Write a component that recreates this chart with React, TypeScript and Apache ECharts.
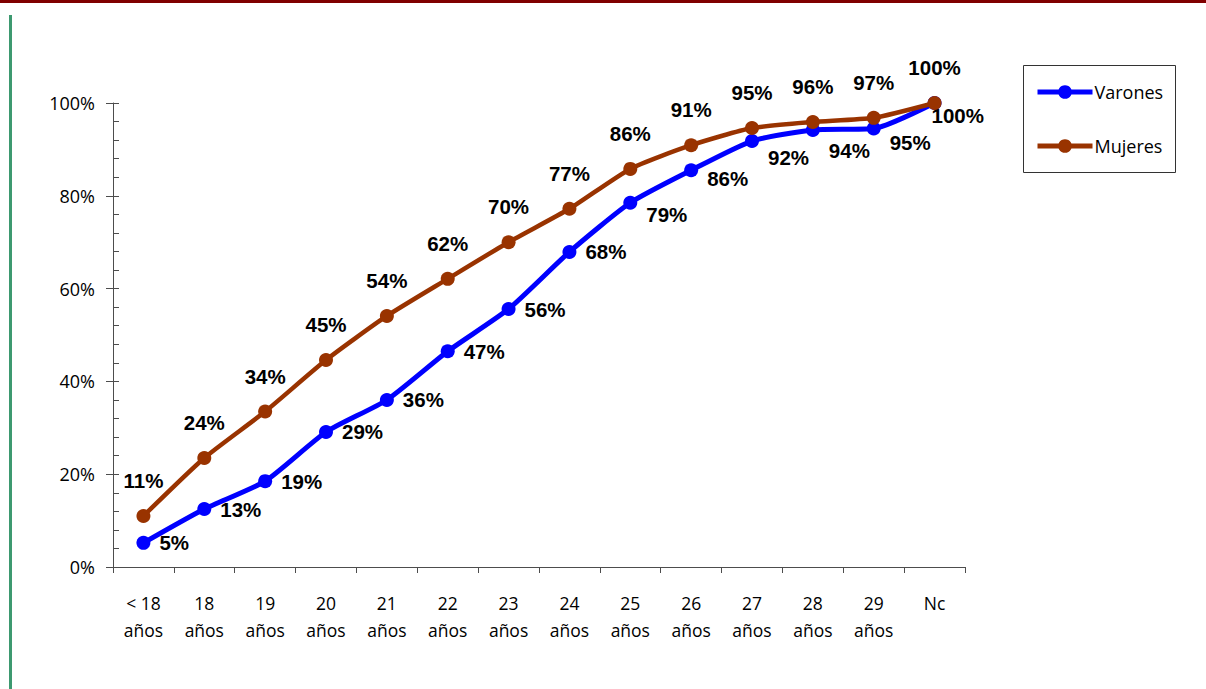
import React, { useEffect, useRef } from "react";
import * as echarts from "echarts";

const categories = ["< 18\naños", "18\naños", "19\naños", "20\naños", "21\naños", "22\naños", "23\naños", "24\naños", "25\naños", "26\naños", "27\naños", "28\naños", "29\naños", "Nc"];
const varones = [5.2, 12.5, 18.5, 29.1, 36.0, 46.5, 55.6, 67.9, 78.5, 85.5, 91.8, 94.2, 94.5, 100];
const mujeres = [11.0, 23.5, 33.5, 44.6, 54.1, 62.1, 70.0, 77.2, 85.8, 90.9, 94.6, 95.9, 96.8, 100];
const yTicks = [0, 20, 40, 60, 80, 100];

const BLUE = "#0000ff";
const BROWN = "#993300";
const AXIS = "#4d4d4d";

export default function App() {
  const ref = useRef<HTMLDivElement>(null);
  useEffect(() => {
    if (!ref.current) return;
    const chart = echarts.init(ref.current, undefined, { renderer: "svg" });
    const varOffsets: Record<number, number[]> = {
      8: [0, 12],
      9: [0, 8],
      10: [0, 16],
      11: [0, 21],
      12: [0, 14],
      13: [-19, 12],
    };
    const labelFont = {
      fontFamily: "Liberation Sans",
      fontWeight: "bold" as const,
      fontSize: 20.5,
      color: "#000",
    };
    chart.setOption({
      animation: false,
      backgroundColor: "#fff",
      grid: { left: 113, right: 241, top: 103, bottom: 122 },
      graphic: [
        { type: "rect", shape: { x: 0, y: 0, width: 1206, height: 3 }, style: { fill: "#800000" } },
        { type: "rect", shape: { x: 9, y: 15, width: 3, height: 674 }, style: { fill: "#3d9970" } },
        {
          type: "rect",
          shape: { x: 1023.5, y: 65.5, width: 152, height: 107 },
          style: { fill: "none", stroke: "#333", lineWidth: 1 },
        },
      ],
      legend: {
        orient: "vertical",
        left: 1035,
        top: 83,
        itemWidth: 55,
        itemHeight: 17,
        itemGap: 36,
        padding: 0,
        lineStyle: { width: 5 },
        textStyle: { fontFamily: "Open Sans", fontSize: 18, color: "#000", padding: [0, 0, 0, -3] },
        data: ["Varones", "Mujeres"],
      },
      xAxis: {
        type: "category",
        data: categories,
        boundaryGap: true,
        axisLine: { lineStyle: { color: AXIS, width: 1 } },
        axisTick: { show: true, length: 6, lineStyle: { color: AXIS } },
        axisLabel: {
          interval: 0,
          margin: 22,
          fontFamily: "Open Sans",
          fontSize: 17.5,
          lineHeight: 27,
          color: "#000",
        },
        splitLine: { show: false },
      },
      yAxis: [
        {
          type: "value",
          min: yTicks[0],
          max: yTicks[yTicks.length - 1],
          interval: 20,
          axisLine: { show: true, lineStyle: { color: AXIS } },
          axisTick: { show: true, length: 7, lineStyle: { color: AXIS } },
          axisLabel: {
            formatter: "{value}%",
            margin: 18,
            fontFamily: "Open Sans",
            fontSize: 18,
            color: "#000",
          },
          splitLine: { show: false },
        },
        {
          type: "value",
          min: yTicks[0],
          max: yTicks[yTicks.length - 1],
          interval: 20,
          position: "left",
          axisLine: { show: false },
          axisTick: { show: true, inside: true, length: 6, lineStyle: { color: AXIS } },
          minorTick: { show: true, splitNumber: 5, length: 6, lineStyle: { color: AXIS } },
          axisLabel: { show: false },
          splitLine: { show: false },
        },
      ],
      series: [
        {
          name: "Varones",
          type: "line",
          smooth: 0.2,
          data: varones.map((v, i) => ({
            value: v,
            label: varOffsets[i] ? { offset: varOffsets[i] } : undefined,
          })),
          symbol: "circle",
          symbolSize: 14,
          itemStyle: { color: BLUE },
          lineStyle: { color: BLUE, width: 5 },
          label: {
            show: true,
            position: "right",
            distance: 9,
            formatter: (p: any) => Math.round(p.value) + "%",
            ...labelFont,
          },
          z: 2,
        },
        {
          name: "Mujeres",
          type: "line",
          smooth: 0.2,
          data: mujeres,
          symbol: "circle",
          symbolSize: 14,
          itemStyle: { color: BROWN },
          lineStyle: { color: BROWN, width: 4.5 },
          label: {
            show: true,
            position: "top",
            distance: 18,
            formatter: (p: any) => Math.round(p.value) + "%",
            ...labelFont,
          },
          z: 3,
        },
      ],
    });
    return () => chart.dispose();
  }, []);
  return (
    <div
      ref={ref}
      style={{ position: "fixed", left: 0, top: 0, width: 1206, height: 689, background: "#fff" }}
    />
  );
}
